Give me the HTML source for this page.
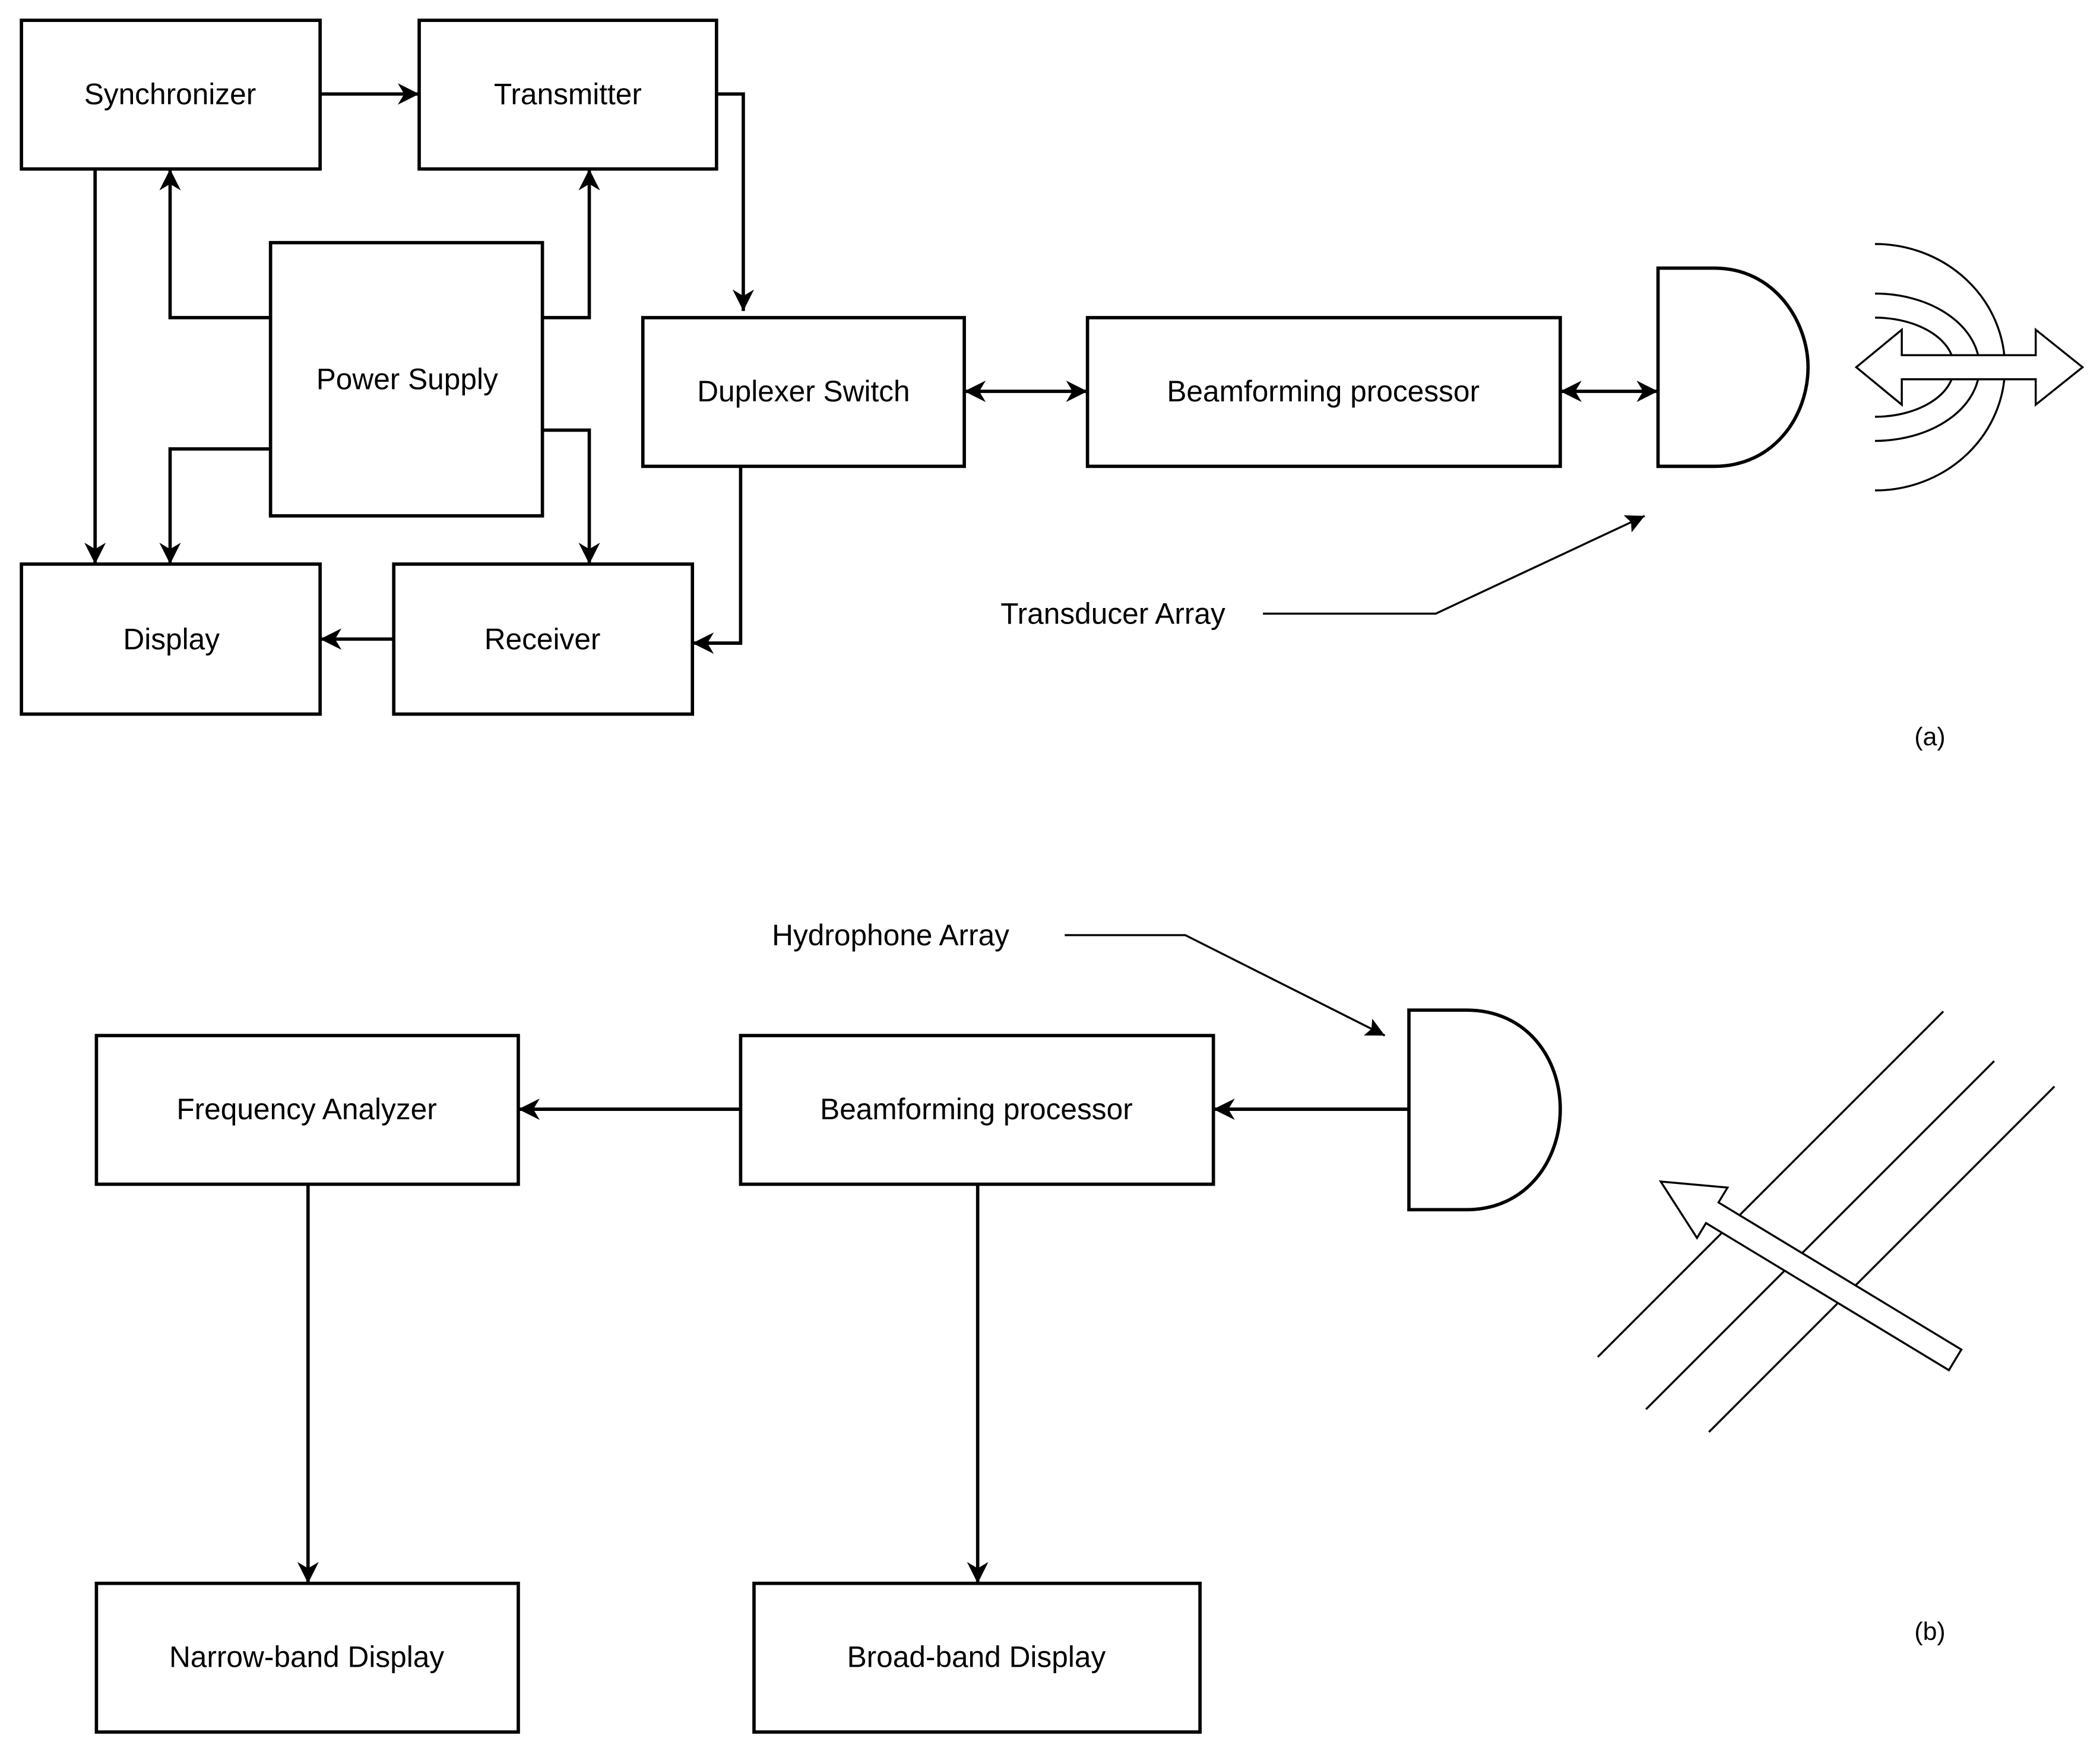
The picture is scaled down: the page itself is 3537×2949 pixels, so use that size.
<!DOCTYPE html>
<html><head><meta charset="utf-8"><style>html,body{margin:0;padding:0;background:#fff}svg{display:block}</style></head><body>
<svg width="3537" height="2949" viewBox="0 0 1568 1307" xmlns="http://www.w3.org/2000/svg" font-family="Liberation Sans, sans-serif" font-size="22" fill="none">
<defs>
<marker id="a" viewBox="0 0 10 10" refX="10" refY="5" markerWidth="17" markerHeight="14" orient="auto-start-reverse" markerUnits="userSpaceOnUse"><path d="M0,0 L10,5 L0,10 L2,5 Z" fill="#000"/></marker>
<marker id="b" viewBox="0 0 10 10" refX="10" refY="5" markerWidth="16" markerHeight="16" orient="auto-start-reverse" markerUnits="userSpaceOnUse"><path d="M0,0 L10,5 L0,10 L3,5 Z" fill="#000"/></marker>
</defs>
<g stroke="#000" stroke-width="2.5" fill="#fff">
<rect x="16" y="15" width="223" height="111"/>
<rect x="313" y="15" width="222" height="111"/>
<rect x="202" y="181" width="203" height="204"/>
<rect x="16" y="421" width="223" height="112"/>
<rect x="294" y="421" width="223" height="112"/>
<rect x="480" y="237" width="240" height="111"/>
<rect x="812" y="237" width="353" height="111"/>
<path d="M1238,200 L1280,200 C1325,200 1350,240 1350,274 C1350,310 1325,348 1280,348 L1238,348 Z"/>
<rect x="72" y="773" width="315" height="111"/>
<rect x="553" y="773" width="353" height="111"/>
<path d="M1052,754 L1095,754 C1140,754 1165,790 1165,828 C1165,866 1140,903 1095,903 L1052,903 Z"/>
<rect x="72" y="1182" width="315" height="111"/>
<rect x="563" y="1182" width="333" height="111"/>
</g>
<g stroke="#000" stroke-width="2.5" marker-end="url(#b)">
<path d="M239,70 L313,70"/>
<path d="M535,70 L555,70 L555,232"/>
<path d="M202,237 L127,237 L127,126"/>
<path d="M405,237 L440,237 L440,126"/>
<path d="M71,126 L71,421"/>
<path d="M202,335 L127,335 L127,421"/>
<path d="M405,321 L440,321 L440,421"/>
<path d="M294,477 L239,477"/>
<path d="M553,348 L553,480 L517,480"/>
<path d="M720,292 L812,292" marker-start="url(#b)"/>
<path d="M1165,292 L1238,292" marker-start="url(#b)"/>
<path d="M1052,828 L906,828"/>
<path d="M553,828 L387,828"/>
<path d="M230,884 L230,1182"/>
<path d="M730,884 L730,1182"/>
</g>
<g stroke="#000" stroke-width="1.5" marker-end="url(#a)">
<path d="M943,458 L1072,458 L1228,385"/>
<path d="M795,698 L885,698 L1034,773"/>
</g>
<g stroke="#000" stroke-width="1.5">
<path d="M1400,182 A97,92 0 0 1 1400,366"/>
<path d="M1400,219 A78,55 0 0 1 1400,329"/>
<path d="M1400,237 A59,37 0 0 1 1400,311"/>
<path d="M1386,274 L1420,246 L1420,265 L1520,265 L1520,246 L1555,274 L1520,302 L1520,283 L1420,283 L1420,302 Z" fill="#fff"/>
<path d="M1193,1013 L1451,755 M1229,1052 L1489,792 M1276,1069 L1534,811"/>
<path d="M0,0 L45,-22 L45,-9 L257,-9 L257,9 L45,9 L45,22 Z" fill="#fff" transform="translate(1240,882) rotate(31.2)"/>
</g>
<g fill="#000" text-anchor="middle" dominant-baseline="central">
<text x="127" y="70">Synchronizer</text>
<text x="424" y="70">Transmitter</text>
<text x="304" y="283">Power Supply</text>
<text x="128" y="477">Display</text>
<text x="405" y="477">Receiver</text>
<text x="600" y="292">Duplexer Switch</text>
<text x="988" y="292">Beamforming processor</text>
<text x="831" y="458">Transducer Array</text>
<text x="1441" y="550" font-size="19">(a)</text>
<text x="665" y="698">Hydrophone Array</text>
<text x="229" y="828">Frequency Analyzer</text>
<text x="729" y="828">Beamforming processor</text>
<text x="229" y="1237">Narrow-band Display</text>
<text x="729" y="1237">Broad-band Display</text>
<text x="1441" y="1218" font-size="19">(b)</text>
</g>
</svg>
</body></html>
